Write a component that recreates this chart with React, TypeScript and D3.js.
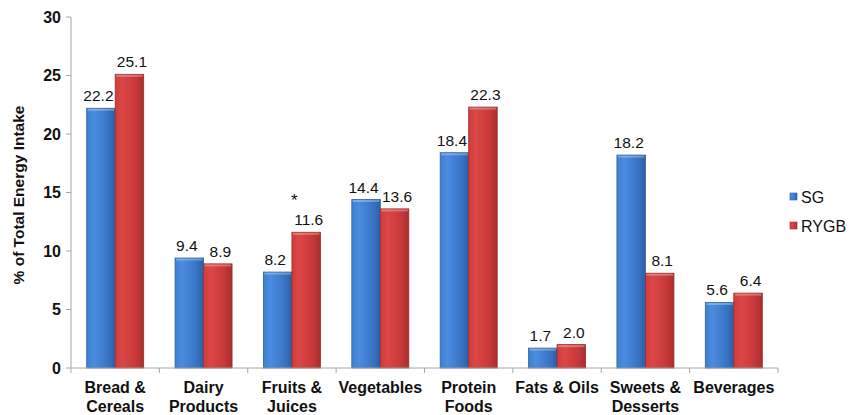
import React from "react";
import * as d3 from "d3";

const categories = [
  ["Bread &", "Cereals"],
  ["Dairy", "Products"],
  ["Fruits &", "Juices"],
  ["Vegetables"],
  ["Protein", "Foods"],
  ["Fats & Oils"],
  ["Sweets &", "Desserts"],
  ["Beverages"],
];
const sgValues = [22.2, 9.4, 8.2, 14.4, 18.4, 1.7, 18.2, 5.6];
const rygbValues = [25.1, 8.9, 11.6, 13.6, 22.3, 2.0, 8.1, 6.4];
const seriesNames = ["SG", "RYGB"];
const yTicks = [0, 5, 10, 15, 20, 25, 30];
const significant = [false, false, true, false, false, false, false, false];

const W = 861;
const H = 415;
const left = 71;
const right = 778;
const top = 17;
const bottom = 368;

export default function App() {
  const x = d3
    .scaleBand<number>()
    .domain(d3.range(categories.length))
    .range([left, right])
    .paddingInner(0)
    .paddingOuter(0);
  const y = d3.scaleLinear().domain([0, 30]).range([bottom, top]);
  const groupW = x.bandwidth() * 0.645;
  const barW = groupW / 2;
  const series = [sgValues, rygbValues];
  const fills = ["url(#gBlue)", "url(#gRed)"];
  const edges = ["#2f5f9e", "#9c2a2a"];
  const labelShift = [-2.5, 2.5];
  const font = "Arial, 'Liberation Sans', sans-serif";

  return (
    <svg
      width={W}
      height={H}
      style={{ position: "absolute", left: 0, top: 0, background: "#fff" }}
      fontFamily={font}
    >
      <defs>
        <linearGradient id="gBlue" x1="0" x2="1" y1="0" y2="0">
          <stop offset="0" stopColor="#3f7fd0" />
          <stop offset="0.25" stopColor="#4a8ce0" />
          <stop offset="0.75" stopColor="#3874c4" />
          <stop offset="1" stopColor="#2c5fa6" />
        </linearGradient>
        <linearGradient id="gRed" x1="0" x2="1" y1="0" y2="0">
          <stop offset="0" stopColor="#cf3d3d" />
          <stop offset="0.25" stopColor="#dc4646" />
          <stop offset="0.75" stopColor="#c63838" />
          <stop offset="1" stopColor="#a82e2e" />
        </linearGradient>
      </defs>

      {/* y axis */}
      <line x1={left} x2={left} y1={top} y2={bottom} stroke="#a6a6a6" strokeWidth={1} />
      {yTicks.map((t) => (
        <g key={t}>
          <line x1={left - 5} x2={left} y1={y(t)} y2={y(t)} stroke="#a6a6a6" />
          <text
            x={left - 10}
            y={y(t)}
            dy="0.35em"
            textAnchor="end"
            fontSize={16}
            fontWeight="bold"
            fill="#111"
          >
            {t}
          </text>
        </g>
      ))}
      <text
        transform={`translate(24,195) rotate(-90)`}
        textAnchor="middle"
        fontSize={15.5}
        fontWeight="bold"
        fill="#111"
      >
        % of Total Energy Intake
      </text>

      {/* bars */}
      {categories.map((_, i) => {
        const cx = (x(i) as number) + x.bandwidth() / 2;
        return (
          <g key={i}>
            {series.map((vals, s) => {
              const bx = cx - groupW / 2 + s * barW;
              const by = y(vals[i]);
              return (
                <g key={s}>
                  <rect
                    x={bx}
                    y={by}
                    width={barW}
                    height={bottom - by}
                    fill={fills[s]}
                    stroke={edges[s]}
                    strokeWidth={0.8}
                  />
                  <rect
                    x={bx + 1}
                    y={by + 0.5}
                    width={barW - 2}
                    height={2}
                    fill="#ffffff"
                    opacity={0.3}
                  />
                  <text
                    x={bx + barW / 2 + labelShift[s]}
                    y={by - 7}
                    textAnchor="middle"
                    fontSize={15.5}
                    fill="#111"
                  >
                    {vals[i].toFixed(1)}
                  </text>
                  {s === 1 && significant[i] && (
                    <text
                      x={bx + barW / 2 - 12}
                      y={by - 26}
                      textAnchor="middle"
                      fontSize={17}
                      fill="#111"
                    >
                      *
                    </text>
                  )}
                </g>
              );
            })}
          </g>
        );
      })}

      {/* x axis */}
      <line x1={left} x2={right} y1={bottom} y2={bottom} stroke="#a6a6a6" />
      {d3.range(categories.length + 1).map((k) => {
        const tx = left + k * x.bandwidth();
        return <line key={k} x1={tx} x2={tx} y1={bottom} y2={bottom + 5} stroke="#a6a6a6" />;
      })}
      {categories.map((lines, i) => {
        const cx = (x(i) as number) + x.bandwidth() / 2;
        return (
          <text key={i} textAnchor="middle" fontSize={16} fontWeight="bold" fill="#111">
            {lines.map((ln, j) => (
              <tspan key={j} x={cx} y={393 + j * 18.5}>
                {ln}
              </tspan>
            ))}
          </text>
        );
      })}

      {/* legend */}
      {seriesNames.map((name, s) => (
        <g key={name} transform={`translate(790,${197 + s * 29})`}>
          <rect x={0} y={-4} width={7} height={7} fill={fills[s]} stroke={edges[s]} strokeWidth={0.6} />
          <text x={11} y={0} dy="0.35em" fontSize={16} fill="#111">
            {name}
          </text>
        </g>
      ))}
    </svg>
  );
}
